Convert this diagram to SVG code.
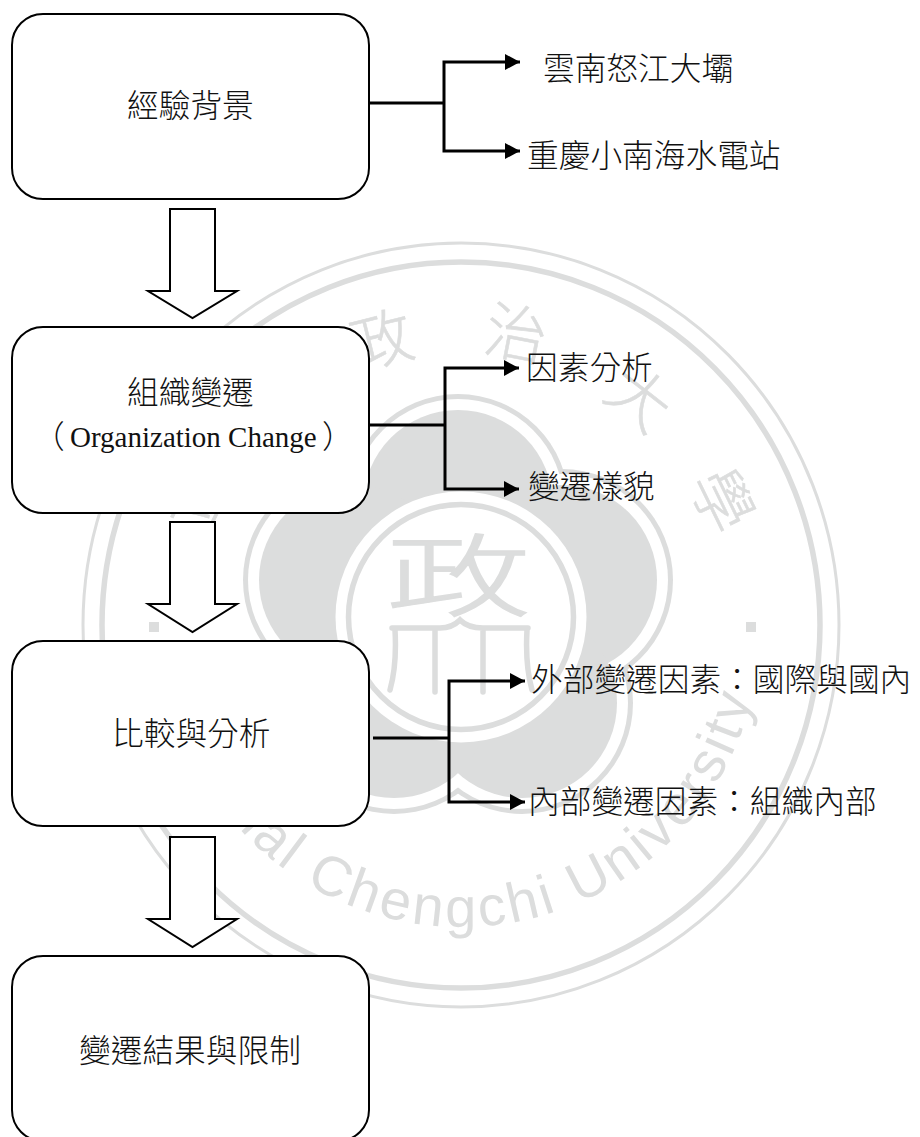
<svg xmlns="http://www.w3.org/2000/svg" width="920" height="1137" viewBox="0 0 920 1137">
<style>
.wm{fill:#dcdddd}
.wmt{fill:#dcdddd;stroke:#dcdddd;stroke-width:0.6;font-family:"Noto Sans CJK TC","Noto Sans CJK SC",sans-serif;font-size:62px;font-weight:300;text-anchor:middle}
.box{fill:#fff;stroke:#000;stroke-width:2}
.ba{fill:#fff;stroke:#000;stroke-width:2;stroke-linejoin:miter}
.c{fill:none;stroke:#000;stroke-width:3}
.t{fill:#111;font-family:"Liberation Serif","Noto Sans CJK TC",serif;font-size:31.7px;font-weight:300}
.cjk{font-family:"Noto Sans CJK TC","Noto Sans CJK SC",sans-serif}
.lat{font-size:29px}
</style>
<defs>
<marker id="ah" markerUnits="userSpaceOnUse" markerWidth="16" markerHeight="16" refX="15" refY="8" orient="auto"><path d="M0 0L15 8L0 16Z" fill="#000"/></marker>
<path id="arc" d="M161 625A300 302 0 0 0 761 625" fill="none"/>
</defs>
<rect width="920" height="1137" fill="#fff"/>
<g id="watermark">
<ellipse cx="461" cy="625" rx="378" ry="382" fill="none" stroke="#dcdddd" stroke-width="3"/>
<ellipse cx="461" cy="625" rx="359" ry="363" fill="none" stroke="#dcdddd" stroke-width="5.5"/>
<g class="wm"><circle cx="458" cy="505" r="111"/><circle cx="562" cy="580" r="111"/><circle cx="522" cy="703" r="111"/><circle cx="394" cy="703" r="111"/><circle cx="354" cy="580" r="111"/></g>
<g fill="#fff"><circle cx="458" cy="505" r="106"/><circle cx="562" cy="580" r="106"/><circle cx="522" cy="703" r="106"/><circle cx="394" cy="703" r="106"/><circle cx="354" cy="580" r="106"/></g>
<g class="wm"><circle cx="458" cy="505" r="95"/><circle cx="562" cy="580" r="95"/><circle cx="522" cy="703" r="95"/><circle cx="394" cy="703" r="95"/><circle cx="354" cy="580" r="95"/></g>
<circle cx="461" cy="617" r="125.5" fill="#fff"/>
<circle cx="461" cy="617" r="112.5" fill="none" stroke="#dcdddd" stroke-width="5.5"/>
<text transform="translate(386,609) scale(1.45,0.9)" class="wmt" style="font-size:100px;text-anchor:start;stroke-width:1.5">政</text>
<path d="M392 628H440Q452 628 460 620Q468 628 483 628H528M395 630Q397 665 390 690M435 630V692M483 630V692M527 630Q525 665 532 690" fill="none" stroke="#dcdddd" stroke-width="5.5" stroke-linecap="round"/>
<text class="wmt" transform="translate(387,362) rotate(-14)">政</text>
<text class="wmt" transform="translate(512,356) rotate(11)">治</text>
<text class="wmt" transform="translate(626,416) rotate(38)">大</text>
<text class="wmt" transform="translate(702,510) rotate(64)">學</text>
<text class="wmt" transform="translate(217,512) rotate(-64)">立</text>
<rect class="wm" x="149" y="622" width="10" height="10"/>
<rect class="wm" x="746" y="622" width="10" height="10"/>
<text style="fill:#dcdddd;font-family:'Liberation Sans',sans-serif;font-size:56px;letter-spacing:3.6px"><textPath href="#arc" startOffset="55">National Chengchi University</textPath></text>
</g>
<g id="connectors">
<path class="c" d="M369 103H444M444 103V62H520" marker-end="url(#ah)"/>
<path class="c" d="M444 103V151H520" marker-end="url(#ah)"/>
<path class="c" d="M369 425H445M445 425V368H519" marker-end="url(#ah)"/>
<path class="c" d="M445 425V489H519" marker-end="url(#ah)"/>
<path class="c" d="M373 738H449M449 738V681H525" marker-end="url(#ah)"/>
<path class="c" d="M449 738V802H525" marker-end="url(#ah)"/>
<path class="ba" d="M170 209H215V291H237L192.500 318L148 291H170Z"/>
<path class="ba" d="M170 522H215V604H237L192.500 632L148 604H170Z"/>
<path class="ba" d="M170 837H215V919H237L192.500 947L148 919H170Z"/>
</g>
<g id="n1"><rect class="box" x="12" y="14" width="357" height="185" rx="31"/><text class="t cjk" x="127" y="117">經驗背景</text></g>
<g id="n2"><rect class="box" x="12" y="327" width="357" height="186" rx="31"/><text class="t cjk" x="127" y="404">組織變遷</text><text class="t cjk" x="33" y="448">（</text><text class="t lat" x="70" y="447">Organization Change</text><text class="t cjk" x="322" y="448">）</text></g>
<g id="n3"><rect class="box" x="12" y="641" width="357" height="185" rx="31"/><text class="t cjk" x="112" y="745">比較與分析</text></g>
<g id="n4"><rect class="box" x="12" y="956" width="357" height="185" rx="31"/><text class="t cjk" x="79" y="1062">變遷結果與限制</text></g>
<g id="l1"><text class="t cjk" x="543" y="80">雲南怒江大壩</text></g>
<g id="l2"><text class="t cjk" x="527" y="167">重慶小南海水電站</text></g>
<g id="l3"><text class="t cjk" x="526" y="379">因素分析</text></g>
<g id="l4"><text class="t cjk" x="528" y="498">變遷樣貌</text></g>
<g id="l5"><text class="t cjk" x="531" y="691">外部變遷因素：國際與國內</text></g>
<g id="l6"><text class="t cjk" x="528" y="813">內部變遷因素：組織內部</text></g>
</svg>
